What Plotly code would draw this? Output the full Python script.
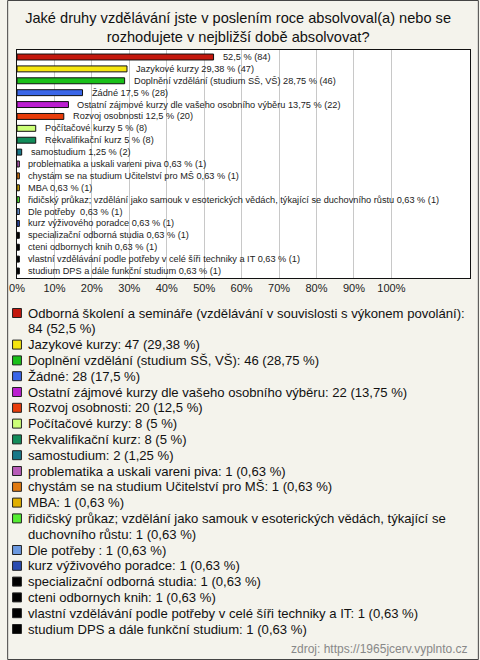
import plotly.graph_objects as go

# ---------------- data ----------------
categories = [
    "Odborná školení a semináře (vzdělávání v souvislosti s výkonem povolání)",
    "Jazykové kurzy",
    "Doplnění vzdělání (studium SŠ, VŠ)",
    "Žádné",
    "Ostatní zájmové kurzy dle vašeho osobního výběru",
    "Rozvoj osobnosti",
    "Počítačové kurzy",
    "Rekvalifikační kurz",
    "samostudium",
    "problematika a uskali vareni piva",
    "chystám se na studium Učitelství pro MŠ",
    "MBA",
    "řidičský průkaz; vzdělání jako samouk v esoterických vědách, týkající se duchovního růstu",
    "Dle potřeby ",
    "kurz výživového poradce",
    "specializační odborná studia",
    "cteni odbornych knih",
    "vlastní vzdělávání podle potřeby v celé šíři techniky a IT",
    "studium DPS a dále funkční studium",
]
counts = [84, 47, 46, 28, 22, 20, 8, 8, 2, 1, 1, 1, 1, 1, 1, 1, 1, 1, 1]
percents = [52.5, 29.38, 28.75, 17.5, 13.75, 12.5, 5, 5, 1.25,
            0.63, 0.63, 0.63, 0.63, 0.63, 0.63, 0.63, 0.63, 0.63, 0.63]
colors = ["#c3170d", "#f5e50f", "#19c019", "#3a66e8", "#bb1fd0", "#e83c0a",
          "#ccff77", "#128c5a", "#187888", "#b85cb8", "#e07a10", "#e0b000",
          "#55ee33", "#6c99e0", "#2a4bb0", "#000000", "#000000", "#000000", "#000000"]
tick_vals = [0, 10, 20, 30, 40, 50, 60, 70, 80, 90, 100]
tick_text = ["0%", "10%", "20%", "30%", "40%", "50%", "60%", "70%", "80%", "90%", "100%"]
title_text = ("Jaké druhy vzdělávání jste v poslením roce absolvoval(a) nebo se<br>"
              "rozhodujete v nejbližší době absolvovat?")
source_text = "zdroj: https://1965jcerv.vyplnto.cz"
# legend entries that wrap onto two lines (index -> lines)
legend_wrap = {
    0: ["Odborná školení a semináře (vzdělávání v souvislosti s výkonem povolání):",
        "84 (52,5 %)"],
    12: ["řidičský průkaz; vzdělání jako samouk v esoterických vědách, týkající se",
         "duchovního růstu: 1 (0,63 %)"],
}

# ---------------- layout geometry ----------------
W, H = 480, 660
L, R, T, B = 10, 9, 50, 382
PW, PH = W - L - R, H - T - B
FONT = "Liberation Sans, Arial, sans-serif"


def px_x(px):
    return (px - L) / PW


def px_y(py):
    return (H - B - py) / PH


def fmt(p):
    return f"{p:g}".replace(".", ",")


fig = go.Figure()
fig.add_trace(go.Bar(
    x=percents, y=categories, orientation="h",
    marker=dict(color=colors, line=dict(color="#111111", width=1)),
    width=0.5, hoverinfo="skip",
))

annotations = []
# bar labels
for i, (c, n, p) in enumerate(zip(categories, counts, percents)):
    txt = f"{fmt(p)} % ({n})" if i == 0 else f"{c} {fmt(p)} % ({n})"
    annotations.append(dict(x=p, y=c, xref="x", yref="y", text=txt, showarrow=False,
                            xanchor="left", yanchor="middle", xshift=7,
                            font=dict(size=9.2, color="#222222", family=FONT)))

# legend (custom, below the chart)
shapes = []
line_y0, line_step = 313, 15.8
line_idx = 0
for i, (c, n, p, col) in enumerate(zip(categories, counts, percents, colors)):
    cy = line_y0 + line_step * line_idx
    lines = legend_wrap.get(i, [f"{c}: {n} ({fmt(p)} %)"])
    shapes.append(dict(type="rect", xref="paper", yref="paper",
                       x0=px_x(5.5), x1=px_x(14.5), y0=px_y(cy - 4.5), y1=px_y(cy + 4.5),
                       fillcolor=col, line=dict(color="#222222", width=1)))
    for k, ln in enumerate(lines):
        annotations.append(dict(x=px_x(19), y=px_y(cy + line_step * k), xref="paper",
                                yref="paper", text=ln, showarrow=False,
                                xanchor="left", yanchor="middle", align="left",
                                font=dict(size=13.1, color="#111111", family=FONT)))
    line_idx += len(lines)

annotations.append(dict(x=px_x(471), y=px_y(649), xref="paper", yref="paper",
                        text=source_text, showarrow=False, xanchor="right", yanchor="middle",
                        font=dict(size=12, color="#888888", family=FONT)))

# outer border
shapes.append(dict(type="rect", xref="paper", yref="paper",
                   x0=px_x(0.5), x1=px_x(479.5), y0=px_y(0.5), y1=px_y(659.5),
                   line=dict(color="#444444", width=1), fillcolor="rgba(0,0,0,0)",
                   layer="above"))

fig.update_layout(
    width=W, height=H, autosize=False,
    margin=dict(l=L, r=R, t=T, b=B, pad=0),
    paper_bgcolor="#f4f3ec", plot_bgcolor="#ffffff",
    showlegend=False, bargap=0.5,
    font=dict(family=FONT, color="#222222"),
    title=dict(text=title_text, x=px_x(235), xanchor="center", xref="paper",
               y=1 - 23 / H, yanchor="top", yref="container",
               font=dict(size=14.6, color="#111111", family=FONT)),
    annotations=annotations, shapes=shapes,
)
fig.update_xaxes(range=[0, 121], tickvals=tick_vals, ticktext=tick_text,
                 showgrid=True, gridcolor="#c8c8c8", gridwidth=1, zeroline=False,
                 showline=True, linecolor="#111111", linewidth=1, mirror=True,
                 ticks="", tickfont=dict(size=11, color="#222222", family=FONT),
                 fixedrange=True)
fig.update_yaxes(autorange="reversed", showticklabels=False, showgrid=False,
                 showline=True, linecolor="#111111", linewidth=1, mirror=True,
                 ticks="", fixedrange=True)

fig.write_html("out.html", config={"displayModeBar": False},
               post_script="document.body.style.margin='0';document.body.style.overflow='hidden';")
